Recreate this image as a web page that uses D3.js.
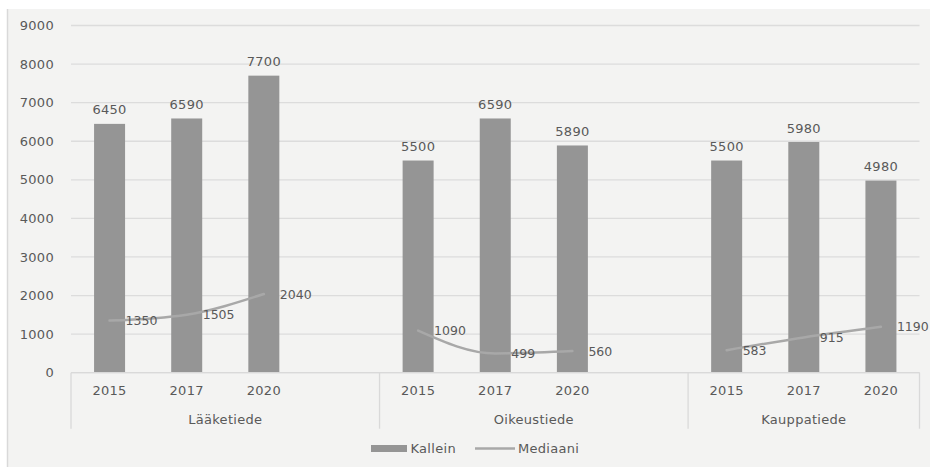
<!DOCTYPE html>
<html lang="fi">
<head>
<meta charset="utf-8">
<title>Kallein ja mediaani</title>
<script src="https://d3js.org/d3.v7.min.js"></script>
<style>
  body { margin: 0; background: #fff; }
  text { font-family: "DejaVu Sans", Verdana, sans-serif; font-size: 13px; letter-spacing: 0.3px; fill: #595959; }
</style>
</head>
<body>
<script>
// data
var groups = ["Lääketiede", "Oikeustiede", "Kauppatiede"];
var years = ["2015", "2017", "2020"];
var kallein = [[6450, 6590, 7700], [5500, 6590, 5890], [5500, 5980, 4980]];
var mediaani = [[1350, 1505, 2040], [1090, 499, 560], [583, 915, 1190]];
var yTicks = [0, 1000, 2000, 3000, 4000, 5000, 6000, 7000, 8000, 9000];

var width = 930, height = 467;
var margin = {top: 25.5, left: 71, right: 10.5, bottom: 94.3};

var svg = d3.select("body").append("svg")
  .attr("width", width)
  .attr("height", height);

// chart panel
svg.append("rect")
  .attr("x", 8).attr("y", 9)
  .attr("width", width - 8).attr("height", height - 9)
  .attr("fill", "#f3f3f2");
svg.append("line")
  .attr("x1", 7.5).attr("x2", 7.5).attr("y1", 9).attr("y2", height)
  .attr("stroke", "#d9d9d9").attr("stroke-width", 1.5);

// slots: three years per group, with an empty slot between groups (as in the sheet)
var slots = [];
groups.forEach(function(g, gi) {
  years.forEach(function(yr, yi) {
    slots.push({key: g + "|" + yr, group: g, year: yr, k: kallein[gi][yi], m: mediaani[gi][yi]});
  });
  if (gi < groups.length - 1) slots.push({key: g + "|blank", group: g, blank: true});
});

var x = d3.scaleBand()
  .domain(slots.map(function(d) { return d.key; }))
  .range([margin.left, width - margin.right])
  .paddingInner(0.6)
  .paddingOuter(0.3);

var y = d3.scaleLinear()
  .domain([0, 9000])
  .range([height - margin.bottom, margin.top]);

var step = x.step();
var bw = 31;
function cx(d) { return x(d.key) + x.bandwidth() / 2; }

// gridlines
svg.append("g")
  .selectAll("line")
  .data(yTicks)
  .enter().append("line")
    .attr("x1", margin.left).attr("x2", width - margin.right)
    .attr("y1", function(d) { return y(d); })
    .attr("y2", function(d) { return y(d); })
    .attr("stroke", "#dcdcdc").attr("stroke-width", 1.3);

// y axis labels
var yAxis = svg.append("g")
  .attr("transform", "translate(" + (margin.left - 17) + ",0)")
  .call(d3.axisLeft(y).tickValues(yTicks).tickFormat(d3.format("d")).tickSize(0).tickPadding(0));
yAxis.select(".domain").remove();
yAxis.selectAll("text").attr("fill", "#595959").style("font-size", "13px")
  .attr("font-family", null);

var data = slots.filter(function(d) { return !d.blank; });

// bars
svg.append("g")
  .selectAll("rect")
  .data(data)
  .enter().append("rect")
    .attr("x", function(d) { return cx(d) - bw / 2; })
    .attr("y", function(d) { return y(d.k); })
    .attr("width", bw)
    .attr("height", function(d) { return y(0) - y(d.k); })
    .attr("fill", "#959595");

// bar labels
svg.append("g")
  .selectAll("text")
  .data(data)
  .enter().append("text")
    .attr("x", function(d) { return cx(d); })
    .attr("y", function(d) { return y(d.k) - 9.5; })
    .attr("text-anchor", "middle")
    .text(function(d) { return d.k; });

// median line, one piece per group
var line = d3.line()
  .x(cx)
  .y(function(d) { return y(d.m); })
  .curve(d3.curveMonotoneX);

svg.append("g")
  .selectAll("path")
  .data(groups.map(function(g) { return data.filter(function(d) { return d.group === g; }); }))
  .enter().append("path")
    .attr("d", line)
    .attr("fill", "none")
    .attr("stroke", "#a8a8a8")
    .attr("stroke-width", 2.5)
    .attr("stroke-linecap", "round");

svg.append("g")
  .selectAll("text")
  .data(data)
  .enter().append("text")
    .attr("x", function(d) { return cx(d) + 16; })
    .attr("y", function(d) { return y(d.m); })
    .attr("dy", "0.36em")
    .attr("fill", "#404040")
    .style("font-size", "12.5px")
    .style("letter-spacing", "0px")
    .text(function(d) { return d.m; });

// x axis
var y0 = y(0);
svg.append("line")
  .attr("x1", margin.left).attr("x2", width - margin.right)
  .attr("y1", y0).attr("y2", y0)
  .attr("stroke", "#d9d9d9").attr("stroke-width", 1.3);

svg.append("g")
  .selectAll("text")
  .data(data)
  .enter().append("text")
    .attr("x", cx)
    .attr("y", y0 + 18)
    .attr("dy", "0.36em")
    .attr("text-anchor", "middle")
    .text(function(d) { return d.year; });

// group spans
var spans = groups.map(function(g) {
  var s = slots.filter(function(d) { return d.group === g; });
  var x0 = x(s[0].key) - step * x.paddingInner() / 2;
  var x1 = x(s[s.length - 1].key) + x.bandwidth() + step * x.paddingInner() / 2;
  return {g: g, x0: x0, x1: x1};
});
spans[0].x0 = margin.left;
spans[spans.length - 1].x1 = width - margin.right;

var bounds = [spans[0].x0].concat(spans.map(function(s) { return s.x1; }));
svg.append("g")
  .selectAll("line")
  .data(bounds)
  .enter().append("line")
    .attr("x1", function(d) { return d; }).attr("x2", function(d) { return d; })
    .attr("y1", y0).attr("y2", y0 + 56)
    .attr("stroke", "#d9d9d9").attr("stroke-width", 1.3);

svg.append("g")
  .selectAll("text")
  .data(spans)
  .enter().append("text")
    .attr("x", function(d) { return (d.x0 + d.x1) / 2; })
    .attr("y", y0 + 46.5)
    .attr("dy", "0.36em")
    .attr("text-anchor", "middle")
    .text(function(d) { return d.g; });

// legend
var lg = svg.append("g").attr("transform", "translate(0,448.5)");
lg.append("rect").attr("x", 371).attr("y", -3.5).attr("width", 36).attr("height", 7).attr("fill", "#959595");
lg.append("text").attr("x", 410.5).attr("dy", "0.36em").text("Kallein");
lg.append("line").attr("x1", 475).attr("x2", 515).attr("stroke", "#a8a8a8").attr("stroke-width", 2.5);
lg.append("text").attr("x", 518).attr("dy", "0.36em").text("Mediaani");
</script>
</body>
</html>
